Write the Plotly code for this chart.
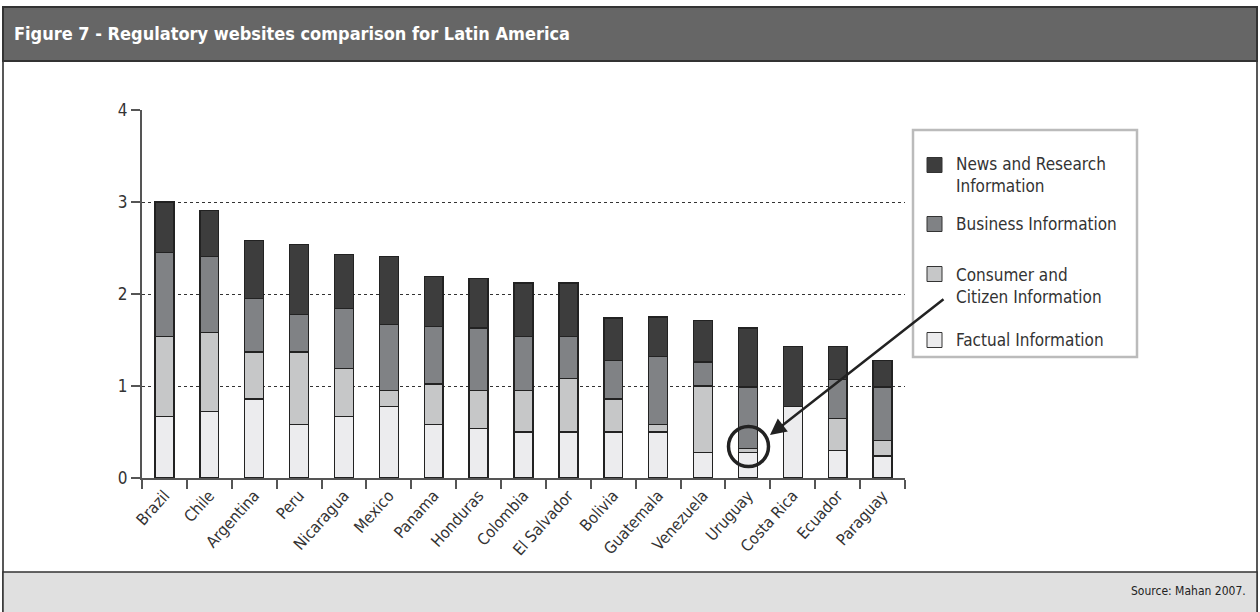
import plotly.graph_objects as go

countries = ["Brazil", "Chile", "Argentina", "Peru", "Nicaragua", "Mexico", "Panama",
             "Honduras", "Colombia", "El Salvador", "Bolivia", "Guatemala", "Venezuela",
             "Uruguay", "Costa Rica", "Ecuador", "Paraguay"]
factual = [0.67, 0.72, 0.86, 0.58, 0.67, 0.78, 0.58, 0.54, 0.50, 0.50, 0.50, 0.50, 0.28, 0.28, 0.78, 0.30, 0.24]
consumer = [0.87, 0.86, 0.51, 0.79, 0.52, 0.17, 0.44, 0.41, 0.45, 0.58, 0.36, 0.08, 0.72, 0.04, 0.00, 0.35, 0.17]
business = [0.91, 0.83, 0.58, 0.41, 0.65, 0.72, 0.63, 0.68, 0.59, 0.46, 0.42, 0.74, 0.26, 0.67, 0.00, 0.42, 0.58]
news = [0.55, 0.50, 0.63, 0.76, 0.59, 0.74, 0.54, 0.54, 0.58, 0.58, 0.46, 0.43, 0.45, 0.64, 0.65, 0.36, 0.29]

series_names = ["Factual Information", "Consumer and<br>Citizen Information",
                "Business Information", "News and Research<br>Information"]
series_values = [factual, consumer, business, news]
series_colors = ["#ececee", "#c6c7c8", "#808285", "#3d3d3d"]

title_text = "Figure 7 - Regulatory websites comparison for Latin America"
source_text = "Source: Mahan 2007."
y_ticks = [0, 1, 2, 3, 4]

FONT = "DejaVu Sans Condensed, Liberation Sans Narrow, Arial Narrow, sans-serif"
W, H = 1260, 612
L, R, T, B = 142, 905, 110, 478


def px(x):
    return (x - L) / (R - L)


def py(y):
    return (B - y) / (B - T)


fig = go.Figure()
for name, vals, col in zip(series_names, series_values, series_colors):
    fig.add_trace(go.Bar(x=countries, y=vals, name=name, marker_color=col,
                         marker_line_color="#222222", marker_line_width=1.4,
                         showlegend=False))

shapes = []
annotations = []
# outer frame
shapes.append(dict(type="rect", xref="paper", yref="paper", x0=px(3), x1=px(1257), y0=py(7), y1=py(614),
                   line=dict(color="#222", width=1.5), fillcolor="rgba(0,0,0,0)", layer="below"))
# title band
shapes.append(dict(type="rect", xref="paper", yref="paper", x0=px(3), x1=px(1257), y0=py(7), y1=py(61),
                   line=dict(color="#333", width=2), fillcolor="#666666", layer="below"))
# footer band
shapes.append(dict(type="rect", xref="paper", yref="paper", x0=px(3), x1=px(1257), y0=py(572), y1=py(614),
                   line=dict(color="#333", width=1.5), fillcolor="#e0e0e0", layer="below"))
annotations.append(dict(xref="paper", yref="paper", x=px(12), y=py(34), xanchor="left", yanchor="middle",
                        text="<b>" + title_text + "</b>", showarrow=False,
                        font=dict(family=FONT, size=18, color="white")))
annotations.append(dict(xref="paper", yref="paper", x=px(1248), y=py(591), xanchor="right", yanchor="middle",
                        text=source_text, showarrow=False,
                        font=dict(family=FONT, size=12, color="#222")))

# legend box
shapes.append(dict(type="rect", xref="paper", yref="paper", x0=px(913), x1=px(1137), y0=py(130), y1=py(357),
                   line=dict(color="#bbbbbb", width=2.5), fillcolor="white", layer="above"))
legend_y = [340, 286, 224, 175]
sq_y = [340, 274, 224, 165]
for name, col, ty, sy in zip(series_names, series_colors, legend_y, sq_y):
    shapes.append(dict(type="rect", xref="paper", yref="paper", x0=px(927), x1=px(942),
                       y0=py(sy - 7.5), y1=py(sy + 7.5), line=dict(color="#333", width=1),
                       fillcolor=col, layer="above"))
    annotations.append(dict(xref="paper", yref="paper", x=px(954), y=py(ty), xanchor="left", yanchor="middle",
                            text=name, showarrow=False, align="left",
                            font=dict(family=FONT, size=17, color="#333")))

# highlight circle and arrow
shapes.append(dict(type="circle", xref="paper", yref="paper", x0=px(728.5), x1=px(768.5),
                   y0=py(426.5), y1=py(466.5), line=dict(color="#222", width=3.5), layer="above"))
annotations.append(dict(xref="paper", yref="paper", x=px(770), y=py(435), ax=175, ay=-137,
                        showarrow=True, arrowhead=2, arrowsize=1.3, arrowwidth=2.5, arrowcolor="#222",
                        text=""))

fig.update_layout(
    width=W, height=H, autosize=False,
    margin=dict(l=L, r=W - R, t=T, b=H - B, pad=0),
    barmode="stack", bargap=0.58,
    paper_bgcolor="white", plot_bgcolor="white",
    font=dict(family=FONT, color="#333"),
    shapes=shapes, annotations=annotations,
    xaxis=dict(type="category", tickson="boundaries", ticks="outside", ticklen=9, tickcolor="#555",
               tickwidth=1.5, showline=True, linecolor="#555", linewidth=2, tickangle=-48,
               tickfont=dict(family=FONT, size=16, color="#333"), showgrid=False, fixedrange=True),
    yaxis=dict(range=[0, 4], tickvals=y_ticks, ticks="outside", ticklen=9, tickcolor="#555", tickwidth=1.5,
               showline=True, linecolor="#555", linewidth=2, showgrid=True, gridcolor="#333",
               gridwidth=1, griddash="3px,3px", zeroline=False,
               tickfont=dict(family=FONT, size=17, color="#333")),
)

fig.write_html("out.html")
